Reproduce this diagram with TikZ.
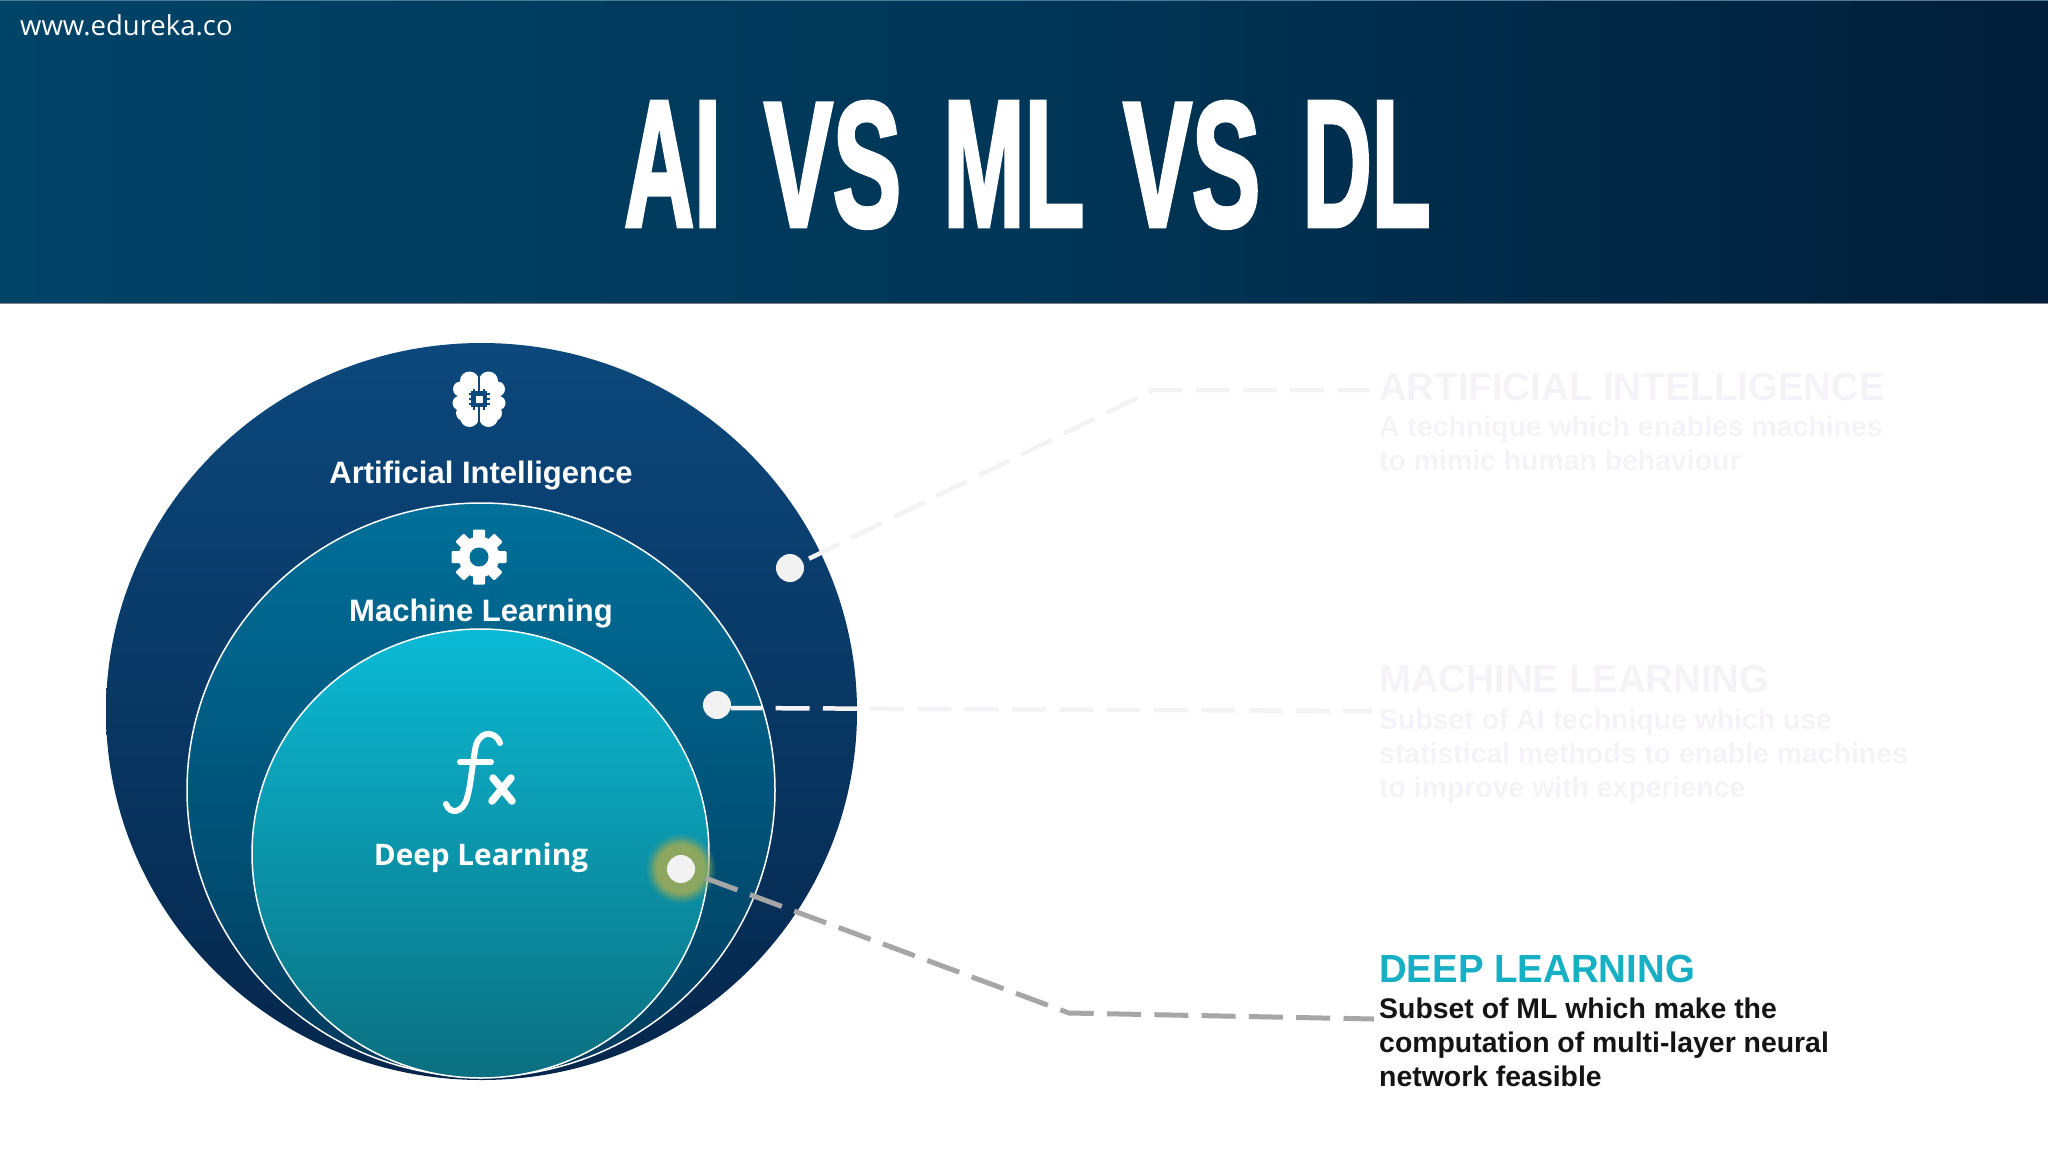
\documentclass[tikz,border=0pt]{standalone}
\usepackage{fontspec}
\setmainfont{Liberation Sans}
\newfontfamily\titlefont[FakeBold=2.6]{Liberation Sans Bold}
\newfontfamily\headfont[FakeStretch=0.977]{Liberation Sans Bold}
\newfontfamily\opensans{Open Sans}
\usetikzlibrary{shapes.geometric}
\definecolor{hdrL}{HTML}{004468}
\definecolor{hdrR}{HTML}{001E3A}
\definecolor{aiT}{HTML}{0C487C}
\definecolor{aiM}{HTML}{064270}
\definecolor{aiB}{HTML}{05264B}
\definecolor{mlT}{HTML}{00709A}
\definecolor{mlM}{HTML}{00607F}
\definecolor{mlB}{HTML}{013A5C}
\definecolor{dlT}{HTML}{0BBAD5}
\definecolor{dlM}{HTML}{0A9DB5}
\definecolor{dlB}{HTML}{0B6F80}
\definecolor{dotc}{HTML}{F2F2F2}
\definecolor{faint}{HTML}{F5F3F7}
\definecolor{dlhead}{HTML}{17AFC4}
\definecolor{bodyk}{HTML}{141414}
\definecolor{glowc}{HTML}{8FA860}
\newcommand{\titleword}[2]{\resizebox{#1pt}{124pt}{\titlefont #2}}
\tikzset{
  x=1pt,y=-1pt,
  lbl/.style={inner sep=0pt,text=white,font=\fontsize{31}{31}\selectfont\bfseries,anchor=base},
  headtxt/.style={inner sep=0pt,anchor=base west,font=\headfont\fontsize{39.3}{39.3}\selectfont},
  bodytxt/.style={inner sep=0pt,anchor=base west,font=\fontsize{28.4}{34}\selectfont\bfseries},
  ring/.style={ellipse,inner sep=0pt,draw=white,line width=1.5pt},
  dotn/.style={circle,fill=dotc,inner sep=0pt,minimum size=28pt},
  link/.style={line width=4.5pt,dash pattern=on 34pt off 13.3pt},
}
\begin{document}
\begin{tikzpicture}
\useasboundingbox (0,0) rectangle (2048,1152);
% header
\shade[left color=hdrL,right color=hdrR,middle color=hdrL!62!hdrR] (0,0) rectangle (2048,303);
\draw[gray,line width=1.5pt] (0,303.5) -- (2048,303.5);
\draw[hdrL!70!white,line width=1pt] (0,0.5) -- (2048,0.5);
\node[inner sep=0pt,anchor=base west,text=white,font=\opensans\fontsize{27.5}{27.5}\selectfont] (site) at (20,35) {www.edureka.co};
\node[inner sep=0pt,anchor=south west,text=white] (title) at (624,228) {\titleword{97}{AI}\hspace{43pt}\titleword{137}{VS}\hspace{42pt}\titleword{141}{ML}\hspace{39pt}\titleword{137}{VS}\hspace{42pt}\titleword{128}{DL}};
% circles
\node[ellipse,inner sep=0pt,minimum width=751pt,minimum height=737pt,top color=aiT,middle color=aiM,bottom color=aiB] (ai) at (481.5,711.5) {};
\node[ring,minimum width=588pt,minimum height=574pt,top color=mlT,middle color=mlM,bottom color=mlB] (ml) at (481,790) {};
\node[ring,minimum width=457pt,minimum height=449pt,top color=dlT,middle color=dlM,bottom color=dlB] (dl) at (480.5,853.5) {};
% glow
\foreach \r/\o in {35/.10,33/.16,31/.24,29/.36,27/.5,25/.7,23/.9}{
  \fill[glowc,opacity=\o] (681,869) circle (\r);
}
% dots
\node[dotn] (aidot) at (790,568) {};
\node[dotn] (mldot) at (717,705) {};
\node[dotn] (dldot) at (681,869) {};
\coordinate (aielbow) at (1153,390);
\coordinate (aiend) at (1370,390);
\coordinate (mlend) at (1372,711);
\coordinate (dlelbow) at (1069,1013);
\coordinate (dlend) at (1374,1019);
\draw[link,color=dotc!60!faint,shorten <=7pt] (aidot) -- (aielbow) -- (aiend);
\draw[link,color=dotc!60!faint,dash phase=3pt] ([yshift=-3pt]mldot.east) -- (mlend);
\draw[link,color=black!35,line width=5pt,shorten <=12pt] (dldot) -- (dlelbow) -- (dlend);
% brain icon
\begin{scope}[shift={(479,399)}]
  \foreach \s in {-1,1}{
    \begin{scope}[xscale=\s]
      \fill[white] (9.5,-18) circle (9.5);
      \fill[white] (18.5,-10) circle (7.5);
      \fill[white] (19.5,4) circle (7);
      \fill[white] (15,14) circle (8);
      \fill[white] (9.5,18.5) circle (9.5);
      \fill[white] (9,0) circle (13);
      \fill[white] (1,-20) rectangle (12,20);
    \end{scope}
  }
  \fill[aiT] (-1,-28) rectangle (1,28);
  \fill[aiT] (-8,-8) rectangle (8,8);
  \foreach \t in {-5,0,5}{
    \fill[aiT] (-10.5,\t-1) rectangle (10.5,\t+1);
    \fill[aiT] (\t-1,-10.5) rectangle (\t+1,10.5);
  }
  \fill[white] (-3.5,-3.5) rectangle (3.5,3.5);
\end{scope}
% gear icon
\begin{scope}[shift={(479,557)}]
  \fill[white] (0,0) circle (20.5);
  \foreach \a in {0,45,...,315}{
    \fill[white,rotate=\a,rounded corners=1pt] (-6,-27.5) rectangle (6,0);
  }
  \fill[mlT!94!mlM] (0,0) circle (9.5);
\end{scope}
% fx icon
\draw[white,line width=6pt,line cap=round] (500,743) .. controls (497,733) and (482,728) .. (476,745) .. controls (472,765) and (471,785) .. (467,798) .. controls (463,813) and (450,815) .. (446,804);
\draw[white,line width=6pt,line cap=round] (460,762) -- (491,762);
\draw[white,line width=7.5pt,line cap=round] (492,801) -- (511,778);
\draw[white,line width=7.5pt,line cap=round] (493,778) -- (512,801);
% circle labels
\node[lbl] (ailbl) at (481,483) {Artificial Intelligence};
\node[lbl] (mllbl) at (481,621) {Machine Learning};
\node[lbl,font=\opensans\fontsize{29.7}{29.7}\selectfont\bfseries] (dllbl) at (481,865) {Deep Learning};
% right text
\node[headtxt,text=faint] (aih) at (1379,400) {ARTIFICIAL INTELLIGENCE};
\node[bodytxt,text=faint] (aib1) at (1379,436) {A technique which enables machines};
\node[bodytxt,text=faint] (aib2) at (1379,470) {to mimic human behaviour};
\node[headtxt,text=faint] (mlh) at (1379,692) {MACHINE LEARNING};
\node[bodytxt,text=faint] (mlb1) at (1379,729) {Subset of AI technique which use};
\node[bodytxt,text=faint] (mlb2) at (1379,763) {statistical methods to enable machines};
\node[bodytxt,text=faint] (mlb3) at (1379,797) {to improve with experience};
\node[headtxt,text=dlhead] (dlh) at (1379,982) {DEEP LEARNING};
\node[bodytxt,text=bodyk] (dlb1) at (1379,1018) {Subset of ML which make the};
\node[bodytxt,text=bodyk] (dlb2) at (1379,1052) {computation of multi-layer neural};
\node[bodytxt,text=bodyk] (dlb3) at (1379,1086) {network feasible};
\end{tikzpicture}
\end{document}
